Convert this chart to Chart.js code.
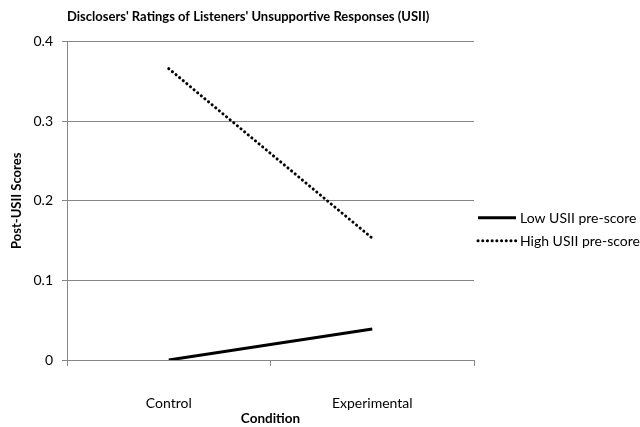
<!DOCTYPE html>
<html>
<head>
<meta charset="utf-8">
<script src="https://cdn.jsdelivr.net/npm/chart.js@4"></script>
<style>
  html, body { margin: 0; padding: 0; background: #fff; }
  #wrap { width: 640px; height: 427px; }
</style>
</head>
<body>
<div id="wrap"><canvas id="usii_chart"></canvas></div>
<script>
// data
const conditions = ['Control', 'Experimental']
const lowPreScore = [0.0, 0.039]
const highPreScore = [0.366, 0.153]
const seriesLabels = ['Low USII pre-score', 'High USII pre-score']
const yTicks = [0, 0.1, 0.2, 0.3, 0.4]

const FONT = 'Lato'
const GRID = '#878787'

// simple legend drawn beside the plot, uses the datasets' own line styles
const sideLegend = {
    id: 'sideLegend',
    afterDraw(chart) {
        const ctx = chart.ctx
        const area = chart.chartArea
        const x0 = area.right + 4
        const yMid = (area.top + area.bottom) / 2
        ctx.save()
        ctx.font = '14px ' + FONT
        ctx.textBaseline = 'middle'
        ctx.fillStyle = '#000'
        chart.data.datasets.forEach((ds, i) => {
            const y = yMid + 17 + i * 23
            ctx.beginPath()
            ctx.lineWidth = ds.borderWidth
            ctx.strokeStyle = ds.borderColor
            ctx.lineCap = ds.borderCapStyle || 'butt'
            ctx.setLineDash(ds.borderDash || [])
            ctx.moveTo(x0, y)
            ctx.lineTo(x0 + 38, y)
            ctx.stroke()
            ctx.setLineDash([])
            ctx.fillText(ds.label, x0 + 42, y + 1)
        })
        ctx.restore()
    }
}

new Chart(document.getElementById('usii_chart'), {
    type: 'line',
    data: {
        labels: conditions,
        datasets: [{
            label: seriesLabels[0],
            data: lowPreScore,
            borderColor: '#000',
            borderWidth: 3,
            pointRadius: 0,
            fill: false,
            tension: 0
        }, {
            label: seriesLabels[1],
            data: highPreScore,
            borderColor: '#000',
            borderWidth: 3,
            borderDash: [0.1, 4.6],
            borderCapStyle: 'round',
            pointRadius: 0,
            fill: false,
            tension: 0
        }]
    },
    options: {
        responsive: true,
        maintainAspectRatio: false,
        animation: false,
        layout: { padding: { right: 166, left: 0, top: 0, bottom: 0 } },
        plugins: {
            legend: { display: false },
            tooltip: { enabled: false },
            title: {
                display: true,
                text: "Disclosers' Ratings of Listeners' Unsupportive Responses (USII)",
                align: 'start',
                fullSize: false,
                color: '#000',
                font: { family: FONT, size: 13, weight: 'bold' },
                padding: { top: 9, bottom: 17 }
            }
        },
        scales: {
            x: {
                offset: true,
                border: { color: GRID, width: 1 },
                grid: { offset: true, drawOnChartArea: false, drawTicks: true, tickLength: 6, color: GRID },
                ticks: { color: '#000', padding: 29, font: { family: FONT, size: 14 } },
                title: {
                    display: true, text: 'Condition', color: '#000',
                    font: { family: FONT, size: 13.5, weight: 'bold' },
                    padding: { top: 2, bottom: 0 }
                },
                afterFit(scale) { scale.height = 67 }
            },
            y: {
                min: 0,
                max: 0.4,
                border: { color: GRID, width: 1 },
                grid: { color: GRID, tickLength: 5 },
                afterBuildTicks(scale) { scale.ticks = yTicks.map(v => ({ value: v })) },
                ticks: {
                    color: '#000', padding: 9,
                    font: { family: FONT, size: 14 },
                    callback: v => v === 0 ? '0' : v.toFixed(1)
                },
                title: {
                    display: true, text: 'Post-USII Scores', color: '#000',
                    font: { family: FONT, size: 13, weight: 'bold' },
                    padding: { top: 9, bottom: 0 }
                },
                afterFit(scale) { scale.width = 67 }
            }
        }
    },
    plugins: [sideLegend]
})
</script>
</body>
</html>
